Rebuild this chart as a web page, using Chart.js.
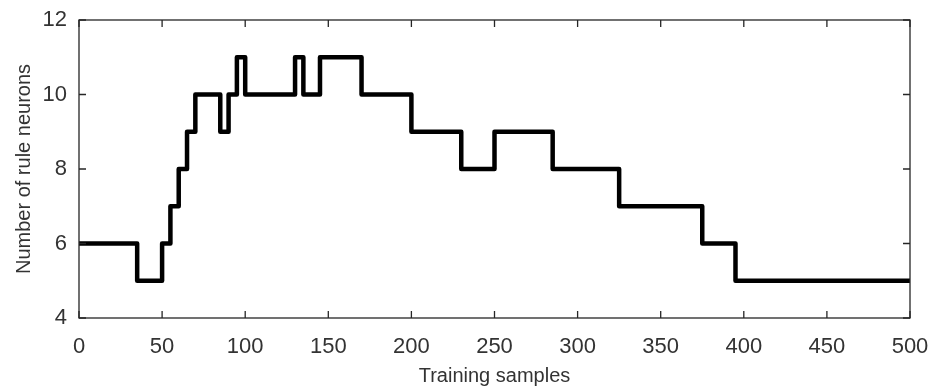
<!DOCTYPE html>
<html lang="en">
<head>
    <meta charset="UTF-8">
    <title>Number of rule neurons</title>
    <style>
        body { margin: 0; background: #fff; }
    </style>
</head>
<body>
    <canvas id="neuronChart" width="935" height="390"></canvas>

    <script src="https://cdn.jsdelivr.net/npm/chart.js"></script>
    <script>
        // sample index where the count changes, and the count from there on
        const changeAt = [0, 35, 50, 55, 60, 65, 70, 85, 90, 95, 100, 130, 135, 145, 170, 200, 230, 250, 285, 325, 375, 395, 500];
        const neurons = [6, 5, 6, 7, 8, 9, 10, 9, 10, 11, 10, 11, 10, 11, 10, 9, 8, 9, 8, 7, 6, 5, 5];
        const xTicks = [0, 50, 100, 150, 200, 250, 300, 350, 400, 450, 500];
        const yTicks = [4, 6, 8, 10, 12];

        const axisColor = '#262626';
        const textColor = '#333333';
        const fontFamily = '"Liberation Sans", Arial, sans-serif';

        // MATLAB style box with inward ticks on all four sides
        const boxAxes = {
            id: 'boxAxes',
            afterDraw(chart) {
                const { ctx, chartArea: a, scales } = chart;
                const len = 7;
                ctx.save();
                ctx.strokeStyle = axisColor;
                ctx.lineWidth = 1.3;
                ctx.strokeRect(a.left, a.top, a.right - a.left, a.bottom - a.top);
                ctx.beginPath();
                xTicks.forEach(v => {
                    const px = scales.x.getPixelForValue(v);
                    ctx.moveTo(px, a.bottom); ctx.lineTo(px, a.bottom - len);
                    ctx.moveTo(px, a.top); ctx.lineTo(px, a.top + len);
                });
                yTicks.forEach(v => {
                    const py = scales.y.getPixelForValue(v);
                    ctx.moveTo(a.left, py); ctx.lineTo(a.left + len, py);
                    ctx.moveTo(a.right, py); ctx.lineTo(a.right - len, py);
                });
                ctx.stroke();
                ctx.restore();
            }
        };

        // keep the plot box where the reference has it, labels may overhang
        function noOverhang(s) {
            s.paddingTop = 0;
            s.paddingBottom = 0;
            s.paddingLeft = 0;
            s.paddingRight = 0;
        }

        const ctx = document.getElementById('neuronChart').getContext('2d');
        new Chart(ctx, {
            type: 'line',
            data: {
                datasets: [{
                    data: changeAt.map((x, i) => ({ x: x, y: neurons[i] })),
                    borderColor: '#000',
                    borderWidth: 4.5,
                    borderJoinStyle: 'round',
                    stepped: 'before',
                    pointRadius: 0,
                    fill: false,
                }]
            },
            options: {
                responsive: false,
                animation: false,
                layout: { padding: { top: 20, right: 25, bottom: 0, left: 0 } },
                plugins: { legend: { display: false }, tooltip: { enabled: false } },
                scales: {
                    x: {
                        type: 'linear',
                        min: 0,
                        max: 500,
                        afterBuildTicks: s => { s.ticks = xTicks.map(v => ({ value: v })); },
                        afterFit: s => { s.height = 72; noOverhang(s); },
                        grid: { display: false, drawTicks: false },
                        border: { display: false },
                        ticks: { padding: 16, color: textColor, font: { family: fontFamily, size: 22 } },
                        title: {
                            display: true,
                            text: 'Training samples',
                            color: textColor,
                            padding: { top: 0, bottom: 2 },
                            font: { family: fontFamily, size: 20 }
                        }
                    },
                    y: {
                        min: 4,
                        max: 12,
                        afterBuildTicks: s => { s.ticks = yTicks.map(v => ({ value: v })); },
                        afterFit: s => { s.width = 79; noOverhang(s); },
                        grid: { display: false, drawTicks: false },
                        border: { display: false },
                        ticks: { padding: 12, color: textColor, font: { family: fontFamily, size: 22 } },
                        title: {
                            display: true,
                            text: 'Number of rule neurons',
                            color: textColor,
                            padding: { top: 12, bottom: 0 },
                            font: { family: fontFamily, size: 20 }
                        }
                    }
                }
            },
            plugins: [boxAxes]
        });
    </script>
</body>
</html>
